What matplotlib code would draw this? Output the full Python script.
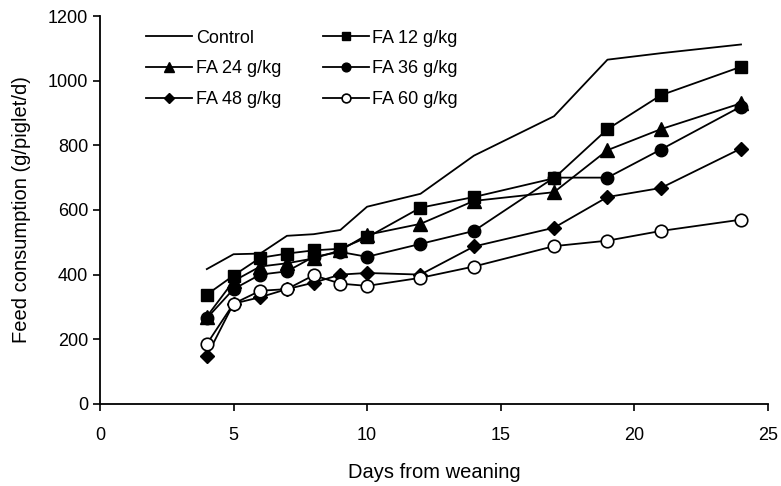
import matplotlib
matplotlib.use("Agg")
import matplotlib.pyplot as plt

plt.rcParams['font.family'] = ['Liberation Sans', 'DejaVu Sans']

days = [4, 5, 6, 7, 8, 9, 10, 12, 14, 17, 19, 21, 24]

control = [417, 463, 465, 520, 525, 538, 610, 650, 768, 890, 1065, 1085, 1112]
fa12 = [338, 397, 452, 465, 475, 480, 515, 607, 640, 698, 850, 955, 1043]
fa24 = [270, 380, 425, 435, 450, 475, 523, 557, 628, 655, 785, 850, 930]
fa36 = [265, 355, 400, 410, 455, 470, 455, 495, 535, 700, 700, 787, 920]
fa48 = [148, 310, 330, 355, 375, 400, 405, 400, 487, 545, 640, 668, 790]
fa60 = [185, 310, 350, 355, 398, 372, 365, 390, 425, 488, 505, 535, 570]

fig = plt.figure(figsize=(7.81, 4.86), dpi=100)
ax = fig.add_axes([0.128, 0.169, 0.855, 0.798])

lw = 1.3
h0, = ax.plot(days, control, color='black', lw=lw, label='Control')
h1, = ax.plot(days, fa12, color='black', lw=lw, marker='s', ms=9, label='FA 12 g/kg')
h2, = ax.plot(days, fa24, color='black', lw=lw, marker='^', ms=10, label='FA 24 g/kg')
h3, = ax.plot(days, fa36, color='black', lw=lw, marker='o', ms=9, label='FA 36 g/kg')
h4, = ax.plot(days, fa48, color='black', lw=lw, marker='D', ms=7.5, label='FA 48 g/kg')
h5, = ax.plot(days, fa60, color='black', lw=lw, marker='o', ms=9, mfc='white',
              mew=1.2, label='FA 60 g/kg')

ax.set_xlim(0, 25)
ax.set_ylim(0, 1200)
ax.set_xticks(range(0, 26, 5))
ax.set_yticks(range(0, 1201, 200))
ax.spines['top'].set_visible(False)
ax.spines['right'].set_visible(False)
ax.spines['left'].set_linewidth(1.3)
ax.spines['bottom'].set_linewidth(1.3)
ax.tick_params(direction='out', length=5, width=1.2, labelsize=13)
ax.tick_params(axis='x', pad=12)

ax.set_xlabel('Days from weaning', fontsize=14.5, labelpad=13)
ax.set_ylabel('Feed consumption (g/piglet/d)', fontsize=14.5, labelpad=12)

# row-major order like the original legend
handles = [h0, h2, h4, h1, h3, h5]
leg = ax.legend(handles=handles, ncol=2, loc='upper left',
                bbox_to_anchor=(0.045, 1.007), frameon=False, fontsize=13,
                handlelength=2.55, handletextpad=0.2, columnspacing=2.3,
                labelspacing=0.77, markerscale=0.7)

fig.savefig('out.png', dpi=100)
